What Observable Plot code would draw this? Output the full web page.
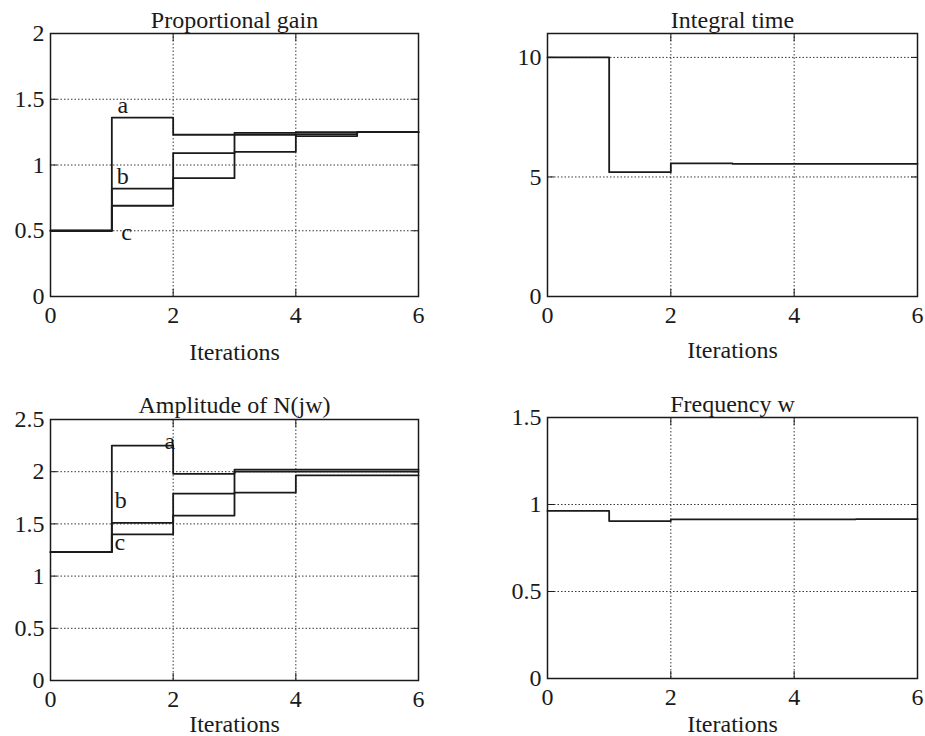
<!DOCTYPE html>
<html><head><meta charset="utf-8">
<script src="https://cdn.jsdelivr.net/npm/d3@7"></script>
<script src="https://cdn.jsdelivr.net/npm/@observablehq/plot@0.6"></script>
<style>
body{margin:0;background:#fff;}
#wrap{position:relative;width:925px;height:736px;background:#fff;overflow:hidden;}
.panel{position:absolute;}
.panel svg, .panel svg text { font-family: "Liberation Serif", "Times New Roman", "DejaVu Serif", serif !important; font-size: 24px !important; }
</style></head><body><div id="wrap"></div>
<script>
// Data
const iterations = [0, 1, 2, 3, 4, 5, 6];
const xTicks = [0, 2, 4, 6];

const gainA = [0.5, 1.36, 1.23, 1.23, 1.22, 1.25, 1.25];
const gainB = [0.5, 0.82, 1.09, 1.245, 1.25, 1.25, 1.25];
const gainC = [0.5, 0.69, 0.90, 1.10, 1.235, 1.25, 1.25];
const gainTicks = [0, 0.5, 1, 1.5, 2];

const integralTime = [10, 5.2, 5.57, 5.55, 5.55, 5.55, 5.55];
const integralTicks = [0, 5, 10];

const ampA = [1.23, 2.25, 1.98, 2.0, 2.0, 2.0, 2.0];
const ampB = [1.23, 1.51, 1.79, 2.02, 2.02, 2.02, 2.02];
const ampC = [1.23, 1.40, 1.58, 1.80, 1.965, 1.965, 1.965];
const ampTicks = [0, 0.5, 1, 1.5, 2, 2.5];

const freq = [0.963, 0.905, 0.914, 0.914, 0.915, 0.916, 0.918];
const freqTicks = [0, 0.5, 1, 1.5];

const titles = ["Proportional gain", "Integral time", "Amplitude of N(jw)", "Frequency w"];
const xLabel = "Iterations";

const INK = "#1a1a1a";

function makePanel(cfg) {
  const marks = [
    Plot.gridX(xTicks, {stroke: "#222", strokeOpacity: 0.9, strokeDasharray: "1.5,2"}),
    Plot.gridY(cfg.yTicks, {stroke: "#222", strokeOpacity: 0.9, strokeDasharray: "1.5,2"}),
    Plot.frame({stroke: INK, strokeWidth: 1.5}),
    // inward tick marks on all four sides
    Plot.axisY(cfg.yTicks, {anchor: "left", tickSize: 7, dx: 7, tickFormat: () => "", label: null, stroke: INK}),
    Plot.axisY(cfg.yTicks, {anchor: "right", tickSize: 7, dx: -7, tickFormat: () => "", label: null, stroke: INK}),
    Plot.axisX(xTicks, {anchor: "bottom", tickSize: 7, dy: -7, tickFormat: () => "", label: null, stroke: INK}),
    Plot.axisX(xTicks, {anchor: "top", tickSize: 7, dy: 7, tickFormat: () => "", label: null, stroke: INK}),
    // tick labels
    Plot.axisY(cfg.yTicks, {anchor: "left", tickSize: 0, tickPadding: 6, tickFormat: d => String(d), label: null, fontSize: 24, fill: INK}),
    Plot.axisX(xTicks, {anchor: "bottom", tickSize: 0, tickPadding: 9, tickFormat: d => String(d), label: null, fontSize: 24, fill: INK}),
    // title and x label
    Plot.text([cfg.title], {frameAnchor: "top", text: d => d, lineAnchor: "bottom", dy: cfg.titleDy, fontSize: 24, fill: INK}),
    Plot.text([xLabel], {frameAnchor: "bottom", text: d => d, lineAnchor: "middle", dy: cfg.xLabelDy, fontSize: 24, fill: INK})
  ];
  for (const s of cfg.series) {
    marks.push(Plot.line(iterations, {x: d => d, y: (d, i) => s[i], curve: "step-after", stroke: INK, strokeWidth: 1.8}));
  }
  for (const l of (cfg.labels || [])) {
    marks.push(Plot.text([l], {x: d => iterations[d.i], y: d => d.series[d.i], text: d => d.text,
      dx: l.dx, dy: l.dy, fontSize: 24, fill: INK, lineAnchor: "middle"}));
  }
  const svg = Plot.plot({
    width: cfg.width, height: cfg.height,
    marginLeft: cfg.ml, marginRight: cfg.mr, marginTop: cfg.mt, marginBottom: cfg.mb,
    x: {domain: [0, 6]},
    y: {domain: cfg.yDomain},
    style: {background: "white", color: INK, overflow: "visible"},
    marks
  });
  const div = document.createElement("div");
  div.className = "panel";
  div.style.left = cfg.left + "px";
  div.style.top = cfg.top + "px";
  div.appendChild(svg);
  document.getElementById("wrap").appendChild(div);
}

makePanel({
  title: titles[0], left: 0, top: 0, width: 462, height: 368, ml: 50, mr: 44, mt: 33, mb: 72,
  yDomain: [0, 2], yTicks: gainTicks, series: [gainA, gainB, gainC], titleDy: -6, xLabelDy: 56,
  labels: [
    {series: gainA, i: 1, text: "a", dx: 11, dy: -12},
    {series: gainB, i: 1, text: "b", dx: 11, dy: -12},
    {series: gainC, i: 0, text: "c", dx: 76, dy: 2}
  ]
});
makePanel({
  title: titles[1], left: 462, top: 0, width: 463, height: 368, ml: 85, mr: 8, mt: 33, mb: 72,
  yDomain: [0, 11], yTicks: integralTicks, series: [integralTime], titleDy: -6, xLabelDy: 54
});
makePanel({
  title: titles[2], left: 0, top: 368, width: 462, height: 368, ml: 50, mr: 44, mt: 51, mb: 56,
  yDomain: [0, 2.5], yTicks: ampTicks, series: [ampA, ampB, ampC], titleDy: -7, xLabelDy: 44,
  labels: [
    {series: ampA, i: 1, text: "a", dx: 58, dy: -4},
    {series: ampB, i: 1, text: "b", dx: 9, dy: -23},
    {series: ampC, i: 1, text: "c", dx: 8, dy: 8}
  ]
});
makePanel({
  title: titles[3], left: 462, top: 368, width: 463, height: 368, ml: 85, mr: 8, mt: 49, mb: 58,
  yDomain: [0, 1.5], yTicks: freqTicks, series: [freq], titleDy: -6, xLabelDy: 46
});
</script>
</body></html>
